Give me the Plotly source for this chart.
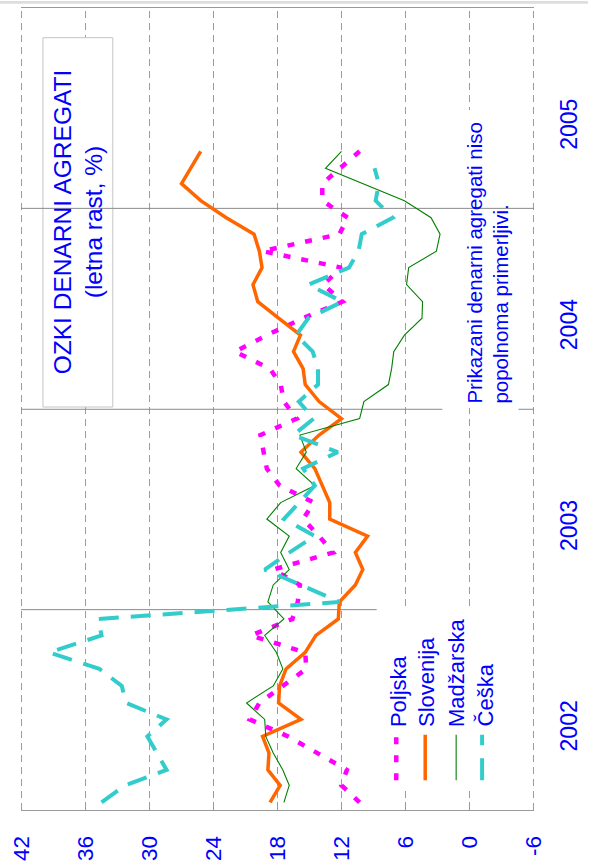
import plotly.graph_objects as go
import pandas as pd

# ---------------- data (annual growth, %) ----------------
months = pd.date_range("2002-01-01", periods=40, freq="MS") + pd.Timedelta(days=14)

poljska = [10.3, 12.0, 11.5, 14.2, 17.0, 20.6, 19.7, 17.5, 15.3, 15.4,
           20.5, 16.6, 16.1, 15.9, 18.4, 12.8, 14.1, 15.6, 14.6, 17.8,
           19.0, 19.3, 19.6, 16.2, 17.4, 17.7, 18.7, 22.0, 19.0, 15.6,
           11.9, 13.7, 12.0, 19.4, 12.2, 11.4, 13.8, 13.8, 12.2, 10.3]
slovenija = [18.7, 17.75, 18.9, 18.8, 19.4, 15.8, 17.9, 17.8, 17.2, 15.4,
             14.4, 12.3, 12.2, 10.7, 10.0, 10.7, 9.55, 13.1, 13.1, 13.8,
             14.5, 15.8, 14.1, 12.0, 14.1, 15.4, 15.6, 16.5, 15.85, 17.9,
             19.85, 20.3, 19.45, 19.7, 20.2, 22.8, 25.2, 27.0, 26.1, 25.2]
madzarska = [17.4, 16.9, 17.5, 18.4, 19.1, 19.2, 20.9, 18.4, 17.5, 18.1,
             19.2, 17.4, 18.9, 18.4, 16.9, 17.7, 16.9, 19.0, 17.7, 14.5,
             16.25, 15.3, 15.9, 10.3, 9.9, 7.6, 7.3, 7.1, 6.1, 4.45,
             4.4, 5.9, 5.7, 3.1, 2.76, 3.6, 6.1, 10.0, 13.5, 12.0]
ceska = [34.5, 32.3, 28.4, 29.3, 30.2, 28.4, 32.2, 32.6, 34.7, 39.4,
         34.5, 34.8, 12.2, 15.8, 19.2, 16.9, 14.5, 17.4, 16.0, 14.5,
         15.6, 12.35, 16.5, 14.6, 16.0, 14.2, 14.2, 14.7, 16.25, 15.1,
         11.9, 15.1, 11.3, 10.4, 10.1, 7.2, 8.8, 8.5, 8.9]

value_ticks = [42, 36, 30, 24, 18, 12, 6, 0, -6]
year_labels = ["2002", "2003", "2004", "2005"]
year_label_dates = ["2002-05-28", "2003-05-28", "2004-05-28", "2005-05-28"]
series_names = ["Poljska", "Slovenija", "Madžarska", "Češka"]
title_text = "OZKI DENARNI AGREGATI<br>(letna rast, %)"
note_text = "Prikazani denarni agregati niso<br>popolnoma primerljivi."

# ---------------- styling ----------------
W, H = 589, 868
ML, MR, MT, MB = 21, 54, 7, 51
FONT = "Liberation Sans, Arial, sans-serif"
BLUE = "#0000FF"
GRID = "#9a9a9a"
styles = {
    "Poljska": dict(color="#FF00FF", width=4.5, dash="7px,11px"),
    "Slovenija": dict(color="#FF6600", width=3.5, dash="solid"),
    "Madžarska": dict(color="#008000", width=1.1, dash="solid"),
    "Češka": dict(color="#33CCCC", width=4, dash="20px,12px"),
}


def px(xp):
    return (xp - ML) / (W - ML - MR)


def py(yp):
    return (H - MB - yp) / (H - MT - MB)


fig = go.Figure()
for name, vals in zip(series_names, [poljska, slovenija, madzarska, ceska]):
    fig.add_trace(go.Scatter(x=vals, y=months[:len(vals)], mode="lines",
                             name=name, line=styles[name], hoverinfo="skip"))

shapes = []
# dashed vertical grid lines
for v in value_ticks:
    shapes.append(dict(type="line", xref="x", yref="paper", x0=v, x1=v, y0=0, y1=1,
                       line=dict(color=GRID, width=1, dash="7px,5px"), layer="below"))
# white boxes (legend area, note area)
shapes.append(dict(type="rect", xref="x", yref="paper", x0=8.7, x1=-4.9,
                   y0=py(793), y1=py(613), fillcolor="white", line=dict(width=0), layer="below"))
shapes.append(dict(type="rect", xref="x", yref="paper", x0=2.55, x1=-4.6,
                   y0=py(411), y1=py(110), fillcolor="white", line=dict(width=0), layer="below"))
# year boundary lines
YL = dict(color="#8a8a8a", width=1)
shapes.append(dict(type="line", xref="x", yref="y", x0=42.05, x1=8.7,
                   y0="2003-01-01", y1="2003-01-01", line=YL, layer="below"))
shapes.append(dict(type="line", xref="x", yref="y", x0=42.05, x1=2.55,
                   y0="2004-01-01", y1="2004-01-01", line=YL, layer="below"))
shapes.append(dict(type="line", xref="x", yref="y", x0=-4.6, x1=-6.05,
                   y0="2004-01-01", y1="2004-01-01", line=YL, layer="below"))
shapes.append(dict(type="line", xref="x", yref="y", x0=42.05, x1=-6.05,
                   y0="2005-01-01", y1="2005-01-01", line=YL, layer="below"))
# title box
shapes.append(dict(type="rect", xref="paper", yref="paper", x0=px(43), x1=px(113),
                   y0=py(410), y1=py(37), fillcolor="white",
                   line=dict(color="#c4c4c4", width=1), layer="below"))
# top light band of the page
shapes.append(dict(type="rect", xref="paper", yref="paper", x0=px(0), x1=px(W),
                   y0=py(2.7), y1=py(0), fillcolor="#dddddd", line=dict(width=0), layer="above"))

# manual rotated legend
leg_x_line = [397, 426, 457, 483]
leg_x_text = [400, 428, 458, 486]
annotations = []
for name, xl, xt in zip(series_names, leg_x_line, leg_x_text):
    st = styles[name]
    ldash = "22px,13px" if name == "Češka" else st["dash"]
    shapes.append(dict(type="line", xref="paper", yref="paper", x0=px(xl), x1=px(xl),
                       y0=py(787), y1=py(741),
                       line=dict(color=st["color"], width=st["width"], dash=ldash),
                       layer="above"))
    annotations.append(dict(text=name, xref="paper", yref="paper", x=px(xt), y=py(735),
                            xanchor="center", yanchor="bottom", textangle=-90,
                            showarrow=False, font=dict(family=FONT, size=22, color=BLUE)))

annotations.append(dict(text=title_text, xref="paper", yref="paper", x=px(78), y=py(223.5),
                        xanchor="center", yanchor="middle", textangle=-90, showarrow=False,
                        font=dict(family=FONT, size=24.5, color=BLUE)))
annotations.append(dict(text=note_text, xref="paper", yref="paper", x=px(488), y=py(409),
                        xanchor="center", yanchor="bottom", textangle=-90, showarrow=False,
                        align="left", font=dict(family=FONT, size=20.5, color=BLUE)))

fig.update_layout(
    width=W, height=H,
    margin=dict(l=ML, r=MR, t=MT, b=MB, pad=0),
    paper_bgcolor="white", plot_bgcolor="white",
    showlegend=False,
    shapes=shapes, annotations=annotations,
    xaxis=dict(range=[42.05, -6.05], tickmode="array", tickvals=value_ticks,
               ticktext=[str(v) for v in value_ticks], tickangle=-90,
               tickfont=dict(family=FONT, size=22.5, color=BLUE),
               ticks="inside", ticklen=8, tickcolor=GRID, tickwidth=1,
               showline=True, linecolor=GRID, linewidth=1, mirror=True,
               showgrid=False, zeroline=False, ticklabelstandoff=16),
    yaxis=dict(type="date", range=["2002-01-01", "2006-01-01"], side="right",
               tickmode="array", tickvals=year_label_dates, ticktext=year_labels,
               tickangle=-90, tickfont=dict(family=FONT, size=23, color=BLUE),
               ticks="", showgrid=False, zeroline=False, showline=False,
               ticklabelstandoff=19),
)

fig.write_html(
    "out.html",
    config={"displayModeBar": False},
    post_script="document.body.style.margin='0px';document.body.style.overflow='hidden';",
)
